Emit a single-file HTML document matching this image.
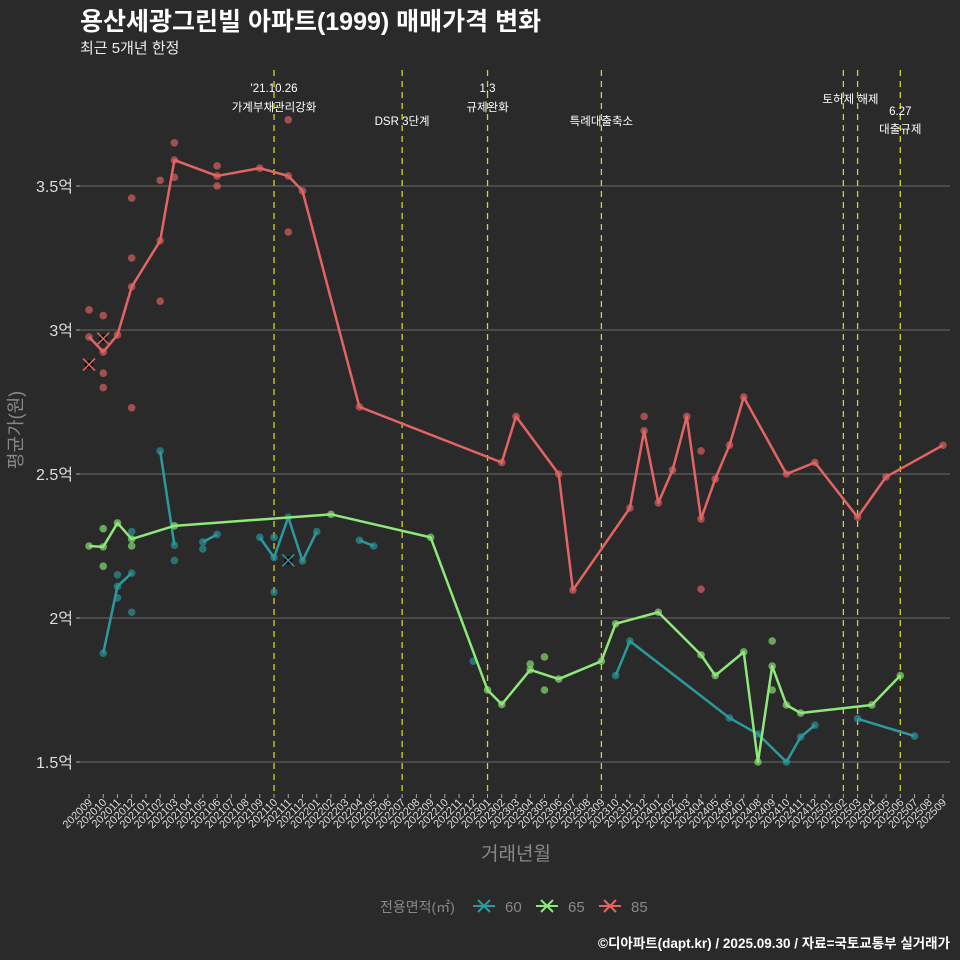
<!DOCTYPE html>
<html><head><meta charset="utf-8"><style>
body{margin:0;background:#2b2a2a;}
svg{display:block;font-family:"Liberation Sans","Noto Sans CJK KR",sans-serif;}
</style></head><body>
<svg id="c" width="960" height="960" xmlns="http://www.w3.org/2000/svg">
<rect width="960" height="960" fill="#2b2a2a"/>
<text x="80" y="30" fill="#fff" font-size="25" font-weight="bold">용산세광그린빌 아파트(1999) 매매가격 변화</text>
<text x="80" y="53" fill="#eee" font-size="15">최근 5개년 한정</text>
<g id="grid"></g><g id="events"></g><g id="marks"></g><g id="axes"></g>
<text transform="translate(22,430) rotate(-90)" text-anchor="middle" fill="#888" font-size="18">평균가(원)</text>
<text x="516" y="860" text-anchor="middle" fill="#888" font-size="19">거래년월</text>
<g id="legend"></g>
<text x="950" y="948" text-anchor="end" fill="#fff" font-size="13.5" font-weight="bold">©디아파트(dapt.kr) / 2025.09.30 / 자료=국토교통부 실거래가</text>
</svg>
<script>
const months=[];for(let y=2020,m=9;months.length<61;){months.push(y+String(m).padStart(2,'0'));m++;if(m>12){m=1;y++;}}
const yTicks=[1.5,2,2.5,3,3.5];
const yTickLabels=['1.5억','2억','2.5억','3억','3.5억'];
const line85=[[0,2.976],[1,2.924],[2,2.983],[3,3.15],[5,3.31],[6,3.59],[9,3.535],[12,3.562],[14,3.535],[15,3.483],[19,2.733],[29,2.54],[30,2.70],[33,2.50],[34,2.097],[38,2.382],[39,2.65],[40,2.40],[41,2.514],[42,2.70],[43,2.344],[44,2.483],[45,2.60],[46,2.767],[49,2.50],[51,2.54],[54,2.35],[56,2.49],[60,2.60]];
const line65=[[0,2.25],[1,2.247],[2,2.33],[3,2.274],[6,2.32],[17,2.36],[24,2.28],[28,1.75],[29,1.70],[31,1.82],[33,1.788],[36,1.85],[37,1.98],[40,2.02],[43,1.872],[44,1.80],[46,1.882],[47,1.50],[48,1.833],[49,1.698],[50,1.67],[55,1.698],[57,1.80]];
const line60=[[[1,1.878],[2,2.11],[3,2.156]],[[5,2.58],[6,2.253]],[[8,2.264],[9,2.29]],[[12,2.28],[13,2.21],[14,2.35],[15,2.198],[16,2.30]],[[19,2.27],[20,2.25]],[[37,1.80],[38,1.92],[45,1.653],[47,1.597],[49,1.50],[50,1.587],[51,1.628]],[[54,1.65],[58,1.59]]];
const pts85=[[0,3.07],[1,3.05],[1,2.85],[1,2.80],[3,3.458],[3,3.25],[3,2.73],[5,3.52],[5,3.10],[6,3.65],[6,3.53],[9,3.57],[9,3.50],[14,3.73],[14,3.34],[43,2.10],[43,2.58],[39,2.70]];
const pts65=[[1,2.31],[1,2.18],[3,2.25],[31,1.84],[32,1.865],[32,1.75],[48,1.92],[48,1.75]];
const pts60=[[2,2.15],[2,2.07],[3,2.02],[3,2.30],[6,2.20],[8,2.24],[13,2.28],[13,2.09],[27,1.85]];
const xMarks=[[85,0,2.88],[85,1,2.97],[60,14,2.20]];
const events=[13,22,28,36,53,54,57];
const eventLabels=[[13,"'21.10.26",92],[13,"가계부채관리강화",111],[22,"DSR 3단계",125],[28,"1.3",92],[28,"규제완화",111],[36,"특례대출축소",125],[53.5,"토허제 해제",103],[57,"6.27",115],[57,"대출규제",133]];
const legendItems=['60','65','85'];
const col={60:'#2a9a9e',65:'#8ee87a',85:'#e46464'};
const X=i=>89+i*(943-89)/60, Y=v=>186+(3.5-v)*288;
const NS='http://www.w3.org/2000/svg';
function mk(t,a,p){const e=document.createElementNS(NS,t);for(const k in a)e.setAttribute(k,a[k]);p.appendChild(e);return e;}
const g=document.getElementById('grid'),ev=document.getElementById('events'),mg=document.getElementById('marks'),ax=document.getElementById('axes');
yTicks.forEach((v,k)=>{const l=mk('line',{x1:80,x2:950,y1:Y(v),y2:Y(v),stroke:'#6a6a6a','stroke-width':1},g);

const t=mk('line',{x1:76,x2:80,y1:Y(v),y2:Y(v),stroke:'#aaa'},ax);
const tx=mk('text',{x:73,y:Y(v)+6,'text-anchor':'end',fill:'#ddd','font-size':16},ax);tx.textContent=yTickLabels[k];
});
months.forEach((m,i)=>{const t=mk('line',{x1:X(i),x2:X(i),y1:794,y2:798,stroke:'#aaa'},ax);
const tx=mk('text',{transform:`translate(${X(i)+4},803) rotate(-45)`,'text-anchor':'end',fill:'#ddd','font-size':11},ax);tx.textContent=m;
});
events.forEach(i=>{const l=mk('line',{x1:X(i),x2:X(i),y1:70,y2:792,stroke:'#d4d41e','stroke-width':1.3,'stroke-dasharray':'6,5'},ev);
});
eventLabels.forEach(([i,s,y])=>{const t=mk('text',{x:X(i),y:y,'text-anchor':'middle',fill:'#fff','font-size':11.5},ev);t.textContent=s;
});
function path(arr,c,name){const p=mk('polyline',{points:arr.map(d=>X(d[0])+','+Y(d[1])).join(' '),fill:'none',stroke:c,'stroke-width':2.5,'stroke-linejoin':'round'},mg);
}
function dots(arr,c,name){arr.forEach(d=>{const e=mk('circle',{cx:X(d[0]),cy:Y(d[1]),r:3.8,fill:c,'fill-opacity':0.65},mg);
});}
line60.forEach(s=>{path(s,col[60],'line-60');dots(s,col[60],'point-60');});
dots(pts60,col[60],'point-60');
path(line65,col[65],'line-65');dots(line65,col[65],'point-65');dots(pts65,col[65],'point-65');
path(line85,col[85],'line-85');dots(line85,col[85],'point-85');dots(pts85,col[85],'point-85');
xMarks.forEach(([s,i,v])=>{const x=X(i),y=Y(v),c=col[s];
const bg=mk('circle',{cx:x,cy:y,r:4,fill:'#000'},mg);
const p=mk('path',{d:`M${x-6},${y-6}L${x+6},${y+6}M${x-6},${y+6}L${x+6},${y-6}`,stroke:c,'stroke-width':1.5},mg);
});
const lg=document.getElementById('legend');
const lt=mk('text',{x:380,y:912,fill:'#888','font-size':14},lg);lt.textContent='전용면적(㎡)';
legendItems.forEach((s,k)=>{const x=473+k*63,y=906,c=col[s];
const p=mk('path',{d:`M${x},${y}H${x+22}M${x+5},${y-6}L${x+17},${y+6}M${x+5},${y+6}L${x+17},${y-6}`,stroke:c,'stroke-width':2},lg);

const t=mk('text',{x:x+32,y:y+6,fill:'#888','font-size':15},lg);t.textContent=s;
});
</script>
</body></html>
